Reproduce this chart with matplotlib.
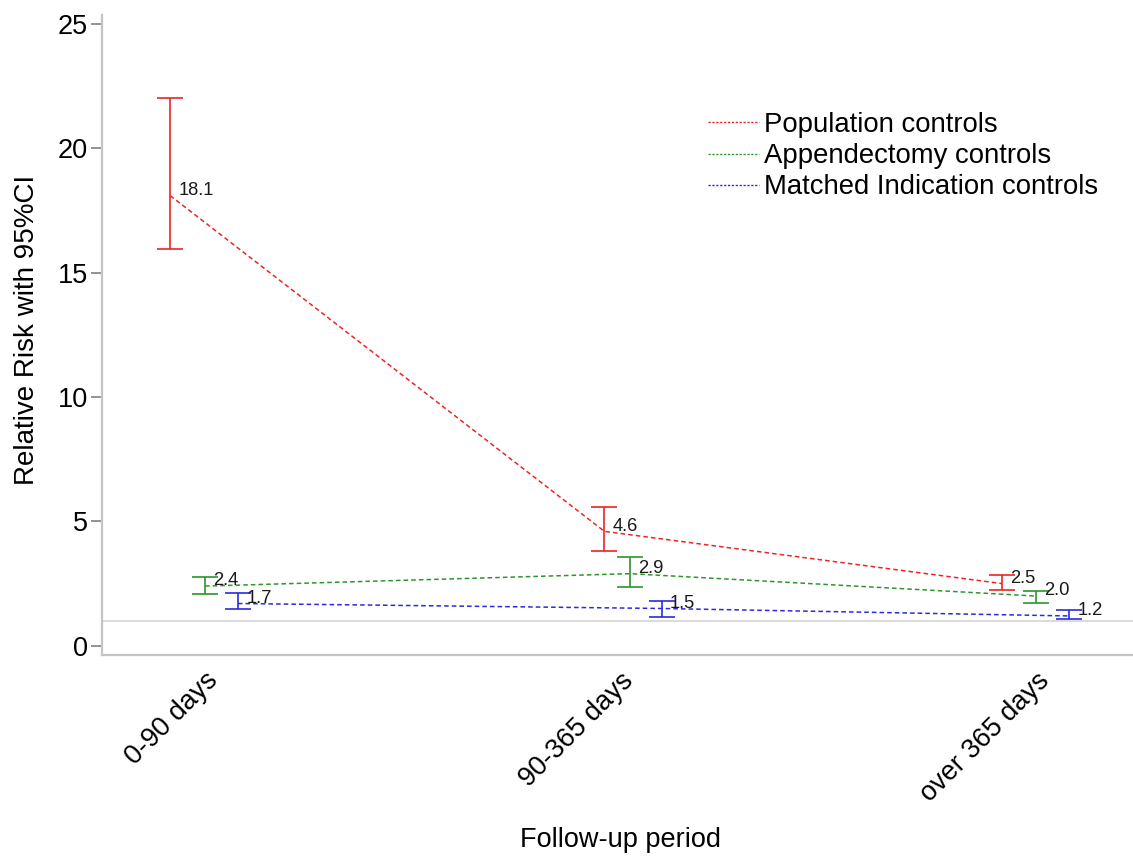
import matplotlib
matplotlib.use('Agg')
import matplotlib.pyplot as plt
import matplotlib.transforms as mtransforms
from matplotlib.lines import Line2D

# ---------------- data ----------------
categories = ['0-90 days', '90-365 days', 'over 365 days']
series_names = ['Population controls', 'Appendectomy controls', 'Matched Indication controls']

rr_population = [18.1, 4.6, 2.5]
lo_population = [15.95, 3.8, 2.24]
hi_population = [22.03, 5.56, 2.84]

rr_appendectomy = [2.4, 2.9, 2.0]
lo_appendectomy = [2.08, 2.35, 1.73]
hi_appendectomy = [2.77, 3.55, 2.21]

rr_matched = [1.7, 1.5, 1.2]
lo_matched = [1.46, 1.17, 1.06]
hi_matched = [2.13, 1.81, 1.44]

reference_value = 1.0
y_ticks = [0, 5, 10, 15, 20, 25]

# ---------------- style / layout ----------------
colors = ['#EC2427', '#2E952E', '#2B2BDB']
# horizontal dodge of each series within a category (data units)
dodge = [
    [-0.084, -0.039, -0.082],
    [0.0, 0.022, 0.0],
    [0.079, 0.099, 0.079],
]

plt.rcParams['font.family'] = ['Liberation Sans', 'DejaVu Sans']

fig = plt.figure(figsize=(11.33, 8.6), dpi=100)
ax = fig.add_axes([102 / 1133, 1 - 655 / 860, 1 - 102 / 1133, (655 - 15) / 860])

cat_pos = list(range(len(categories)))
all_rr = [rr_population, rr_appendectomy, rr_matched]
all_lo = [lo_population, lo_appendectomy, lo_matched]
all_hi = [hi_population, hi_appendectomy, hi_matched]

ax.axhline(reference_value, color='#D4D4D4', lw=1.2, zorder=0)

handles = []
for s, name in enumerate(series_names):
    xs = [cat_pos[i] + dodge[s][i] for i in range(len(categories))]
    rr = all_rr[s]
    lo = all_lo[s]
    hi = all_hi[s]
    yerr = [[r - l for r, l in zip(rr, lo)], [h - r for r, h in zip(rr, hi)]]
    ax.plot(xs, rr, color=colors[s], lw=1.1, linestyle=(0, (3.0, 2.0)), zorder=2)
    ax.errorbar(xs, rr, yerr=yerr, fmt='none', ecolor=colors[s], elinewidth=1.2,
                capsize=9.4, capthick=1.2, zorder=3)
    for x, r in zip(xs, rr):
        ax.annotate(f'{r:.1f}', (x, r), xytext=(6.0, 3.8), textcoords='offset points',
                    ha='left', va='center', fontsize=13.2, color='#1a1a1a', zorder=4)
    handles.append(Line2D([0], [0], color=colors[s], lw=1.0, linestyle=(0, (1.6, 1.2))))

ax.set_xlim(-0.248, 2.233)
ax.set_ylim(-0.37, 25.36)
ax.set_yticks(y_ticks)
ax.set_yticklabels([str(t) for t in y_ticks], fontsize=19.5)
ax.set_xticks(cat_pos)
ax.set_xticklabels(categories, fontsize=19.5, rotation=45, ha='right',
                   rotation_mode='anchor', va='top')
offset = mtransforms.ScaledTranslation(0.10, 0, fig.dpi_scale_trans)
for lab in ax.get_xticklabels():
    lab.set_transform(lab.get_transform() + offset)

ax.tick_params(axis='x', length=0, pad=9)
ax.tick_params(axis='y', length=8, width=1.2, color='#808080', pad=2)

for side in ['top', 'right']:
    ax.spines[side].set_visible(False)
for side in ['left', 'bottom']:
    ax.spines[side].set_color('#C4C4C4')
    ax.spines[side].set_linewidth(1.6)

fig.text(27 / 1133, 1 - 330 / 860, 'Relative Risk with 95%CI', rotation=90,
         ha='center', va='center', fontsize=20)
fig.text(620 / 1133, 1 - 840 / 860, 'Follow-up period', ha='center', va='center',
         fontsize=19.5)

leg = ax.legend(handles, series_names, loc='upper left',
                bbox_to_anchor=(708 / 1133, 1 - 112 / 860),
                bbox_transform=fig.transFigure, frameon=False, fontsize=19.8,
                handlelength=1.85, handletextpad=0.2, labelspacing=0.19,
                borderpad=0, borderaxespad=0)

fig.savefig('out.png', dpi=100)
